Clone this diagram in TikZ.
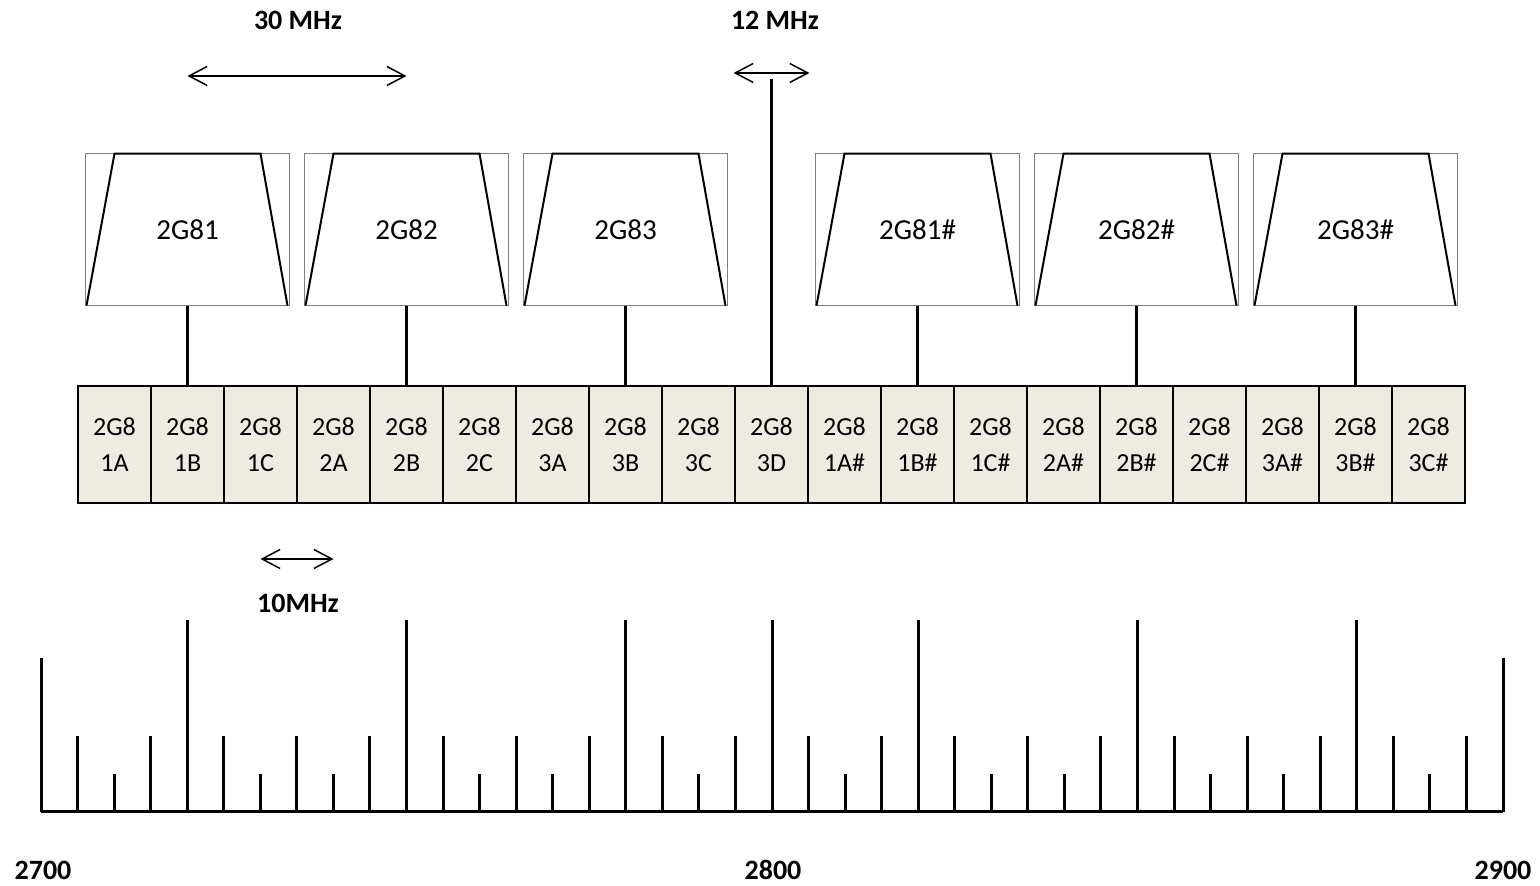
\documentclass[tikz,border=0pt]{standalone}
\usepackage{fontspec}
\setmainfont{Carlito}
\usetikzlibrary{positioning}
\usetikzlibrary{arrows.meta}
\usetikzlibrary{calc}
\definecolor{cellfill}{HTML}{EEECE1}

\begin{document}
\begin{tikzpicture}[x=0.5pt,y=0.5pt,>={Straight Barb[length=9pt,width=9.5pt]},
                    node distance=36.5pt,
                    cell/.style={draw,line width=1.4pt,fill=cellfill,minimum width=36.5pt,minimum height=58.5pt,
                                 inner sep=0pt,align=center,font=\fontsize{13}{18}\selectfont},
                    band/.style={draw=gray,line width=0.8pt,minimum width=102pt,minimum height=76pt,
                                 inner sep=0pt,outer sep=0pt,font=\fontsize{14.5}{17}\selectfont},
                    slope/.style={line width=1pt},
                    feed/.style={line width=1.5pt},
                    dimline/.style={<->,line width=0.75pt},
                    mhz/.style={font=\fontsize{14}{17}\selectfont\bfseries},
                    tickline/.style={line width=1.5pt}]
      \useasboundingbox (0,0) rectangle (1540,886);

      % channel row
      \node[cell] (c1) at (114.5,441.5) {2G8\\1A};
      \node[cell] (c2) [right of=c1] {2G8\\1B};
      \node[cell] (c3) [right of=c2] {2G8\\1C};
      \node[cell] (c4) [right of=c3] {2G8\\2A};
      \node[cell] (c5) [right of=c4] {2G8\\2B};
      \node[cell] (c6) [right of=c5] {2G8\\2C};
      \node[cell] (c7) [right of=c6] {2G8\\3A};
      \node[cell] (c8) [right of=c7] {2G8\\3B};
      \node[cell] (c9) [right of=c8] {2G8\\3C};
      \node[cell] (c10) [right of=c9] {2G8\\3D};
      \node[cell] (c11) [right of=c10] {2G8\\1A\#};
      \node[cell] (c12) [right of=c11] {2G8\\1B\#};
      \node[cell] (c13) [right of=c12] {2G8\\1C\#};
      \node[cell] (c14) [right of=c13] {2G8\\2A\#};
      \node[cell] (c15) [right of=c14] {2G8\\2B\#};
      \node[cell] (c16) [right of=c15] {2G8\\2C\#};
      \node[cell] (c17) [right of=c16] {2G8\\3A\#};
      \node[cell] (c18) [right of=c17] {2G8\\3B\#};
      \node[cell] (c19) [right of=c18] {2G8\\3C\#};

      % filters
      \node[band] (f1) [above=39.5pt of c2] {2G81};
      \node[band] (f2) [above=39.5pt of c5] {2G82};
      \node[band] (f3) [above=39.5pt of c8] {2G83};
      \node[band] (f4) [above=39.5pt of c12] {2G81\#};
      \node[band] (f5) [above=39.5pt of c15] {2G82\#};
      \node[band] (f6) [above=39.5pt of c18] {2G83\#};

      \foreach \f in {f1,f2,f3,f4,f5,f6}
        \draw[slope] ($(\f.south west)+(1,0)$) -- ($(\f.north west)+(29,0)$)
                  -- ($(\f.north east)+(-29,0)$) -- ($(\f.south east)+(-2,0)$);

      \path[feed]
	(f1) edge (c2)
	(f2) edge (c5)
	(f3) edge (c8)
	(f4) edge (c12)
	(f5) edge (c15)
	(f6) edge (c18);

      \coordinate (mast) at ($(c10.north)+(0,306)$);
      \draw[feed] (mast) -- (c10);

      % widths
      \coordinate (w30a) at (c2 |- 0,810);
      \coordinate (w30b) at (c5 |- 0,810);
      \coordinate (w12a) at (c10.west |- 0,813);
      \coordinate (w12b) at (c10.east |- 0,813);
      \coordinate (w10a) at (c3 |- 0,327);
      \coordinate (w10b) at (c4 |- 0,327);
      \draw[dimline] (w30a) -- (w30b);
      \draw[dimline] (w12a) -- (w12b);
      \draw[dimline] (w10a) -- (w10b);
      \node[mhz] (l30) at (298,866) {30 MHz};
      \node[mhz] (l12) at (775,866) {12 MHz};
      \node[mhz] (l10) at (298,283) {10MHz};

      % frequency ruler
      \draw[tickline] (41,74) -- (1503,74);
      \foreach \i in {0,40}
        \draw[tickline] ({41+36.55*\i},74) -- ++(0,154);
      \foreach \i in {4,10,16,20,24,30,36}
        \draw[tickline] ({41+36.55*\i},74) -- ++(0,192);
      \foreach \i in {1,3,...,39}
        \draw[tickline] ({41+36.55*\i},74) -- ++(0,76);
      \foreach \i in {2,6,8,12,14,18,22,26,28,32,34,38}
        \draw[tickline] ({41+36.55*\i},74) -- ++(0,38);
      \node[mhz] (g2700) at (43,16) {2700};
      \node[mhz] (g2800) at (773,16) {2800};
      \node[mhz] (g2900) at (1503,16) {2900};
\end{tikzpicture}
\end{document}
